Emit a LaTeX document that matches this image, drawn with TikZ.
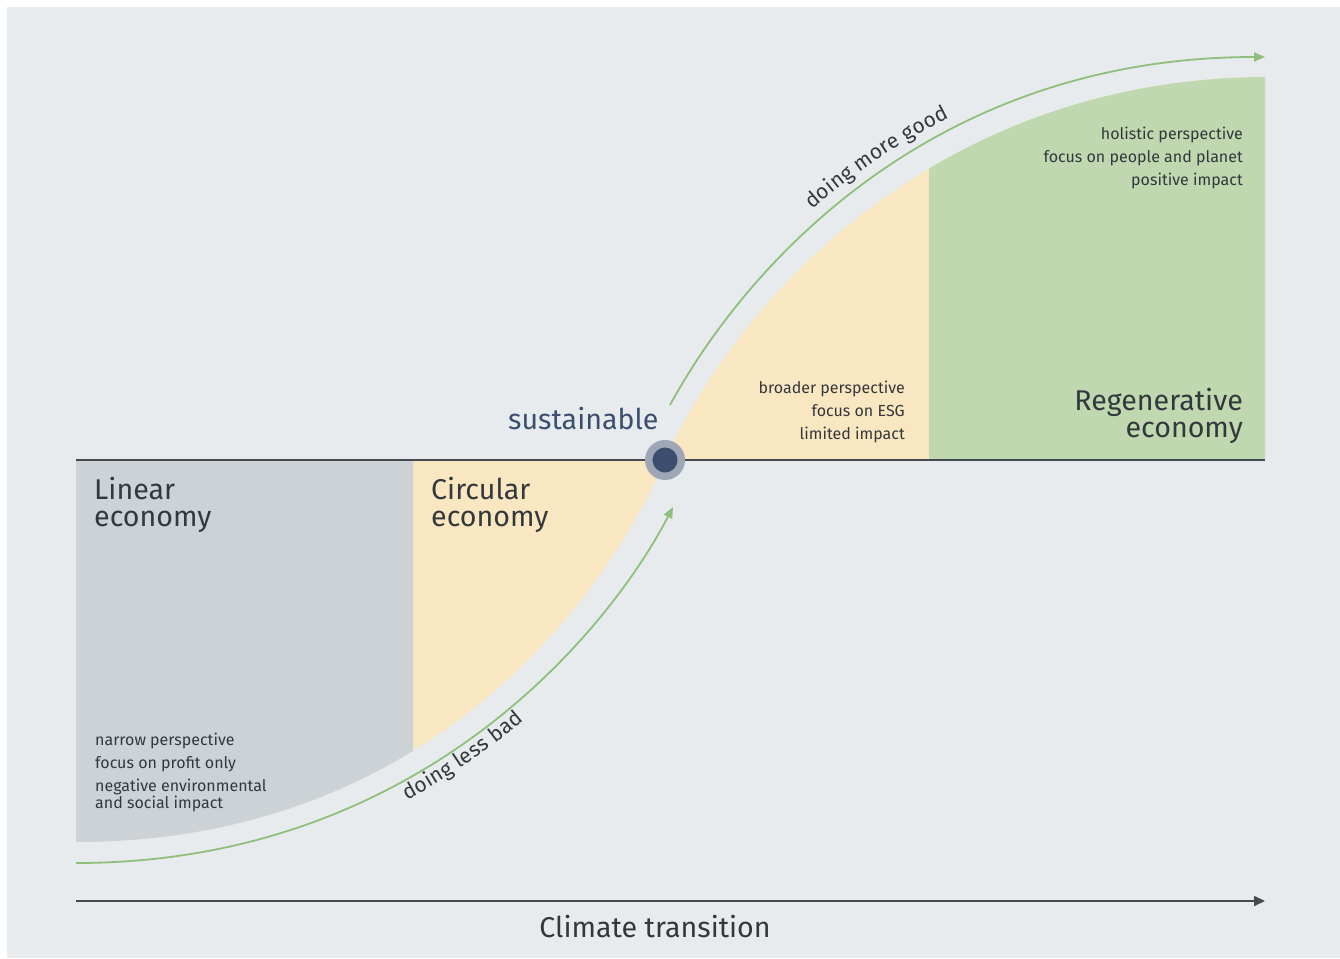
\documentclass[tikz,border=0pt]{standalone}
\usepackage{fontspec}
\setmainfont{Fira Sans}
\usetikzlibrary{arrows.meta,decorations.text}
\definecolor{bgc}{HTML}{E7EBEE}
\definecolor{grayc}{HTML}{CDD2D6}
\definecolor{yellowc}{HTML}{F9E7C1}
\definecolor{greenc}{HTML}{BFD8AF}
\definecolor{greenline}{HTML}{8EC07C}
\definecolor{textdark}{HTML}{33383C}
\definecolor{navy}{HTML}{3C4E6E}
\definecolor{ringc}{HTML}{9FA7B6}
\definecolor{axisc}{HTML}{454A4F}
\newcommand\arcfont{\fontsize{21}{21}\selectfont\color{textdark}}
\begin{document}
\begin{tikzpicture}[x=1pt,y=-1pt,
  big/.style={font=\fontsize{28.6}{27.5}\selectfont, inner sep=0pt, text=textdark},
  small/.style={font=\fontsize{16}{17.5}\selectfont, inner sep=0pt, text=textdark},
  greenarrow/.style={draw=greenline, line width=1.8pt, -{Triangle[length=11pt,width=9pt]}},
  axisline/.style={draw=axisc, line width=1.2pt},
  xaxis/.style={draw=axisc, line width=1.5pt, -{Triangle[length=11pt,width=10pt]}}]
\useasboundingbox (0,0) rectangle (1340,958);
\fill[bgc] (7,7) rectangle (1340,958);
% key points
\coordinate (lowstart) at (76,842);
\coordinate (mid) at (665,460);
\coordinate (upend) at (1265,77);
\coordinate (axl) at (76,460);
\coordinate (axr) at (1265,460);
% lower region
\fill[yellowc] (axl) -- (lowstart) .. controls (420,842) and (600,610) .. (mid) -- cycle;
\begin{scope}
  \clip (0,0) rectangle (413,958);
  \fill[grayc] (axl) -- (lowstart) .. controls (420,842) and (600,610) .. (mid) -- cycle;
\end{scope}
% upper region
\fill[yellowc] (mid) .. controls (732,310) and (928,79) .. (upend) -- (axr) -- cycle;
\begin{scope}
  \clip (929,0) rectangle (1340,958);
  \fill[greenc] (mid) .. controls (732,310) and (928,79) .. (upend) -- (axr) -- cycle;
\end{scope}
\draw[axisline] (axl) -- (axr);
% green arrows
\coordinate (ua0) at (670,405);
\coordinate (ua1) at (1265,57);
\coordinate (la0) at (76,863);
\coordinate (la1) at (673,507);
\draw[greenarrow] (ua0) .. controls (752,255) and (941,57) .. (ua1);
\draw[greenarrow] (la0) .. controls (425,863) and (612,625) .. (la1);
\path[decorate, decoration={text along path, text={|\arcfont|doing more good}, text align={left indent=240pt}, raise=12pt}]
  (ua0) .. controls (752,255) and (941,57) .. (ua1);
\path[decorate, decoration={text along path, text={|\arcfont|doing less bad}, text align={left indent=335pt}, raise=-19pt}]
  (la0) .. controls (425,863) and (612,625) .. (la1);
% dot
\node[circle, fill=navy, draw=ringc, line width=7.5pt, minimum size=32.5pt, inner sep=0pt] (dot) at (mid) {};
% x axis
\coordinate (xa0) at (76,901);
\coordinate (xa1) at (1265,901);
\draw[xaxis] (xa0) -- (xa1);
% labels (multi-line nodes: base = last line)
\node[big, anchor=base west, align=left] (linear) at (94,526.5) {Linear\\economy};
\node[big, anchor=base west, align=left] (circular) at (431,526.5) {Circular\\economy};
\node[big, anchor=base east, align=right] (regen) at (1243,437.5) {Regenerative\\economy};
\node[big, anchor=base west, text=navy] (sust) at (508,429) {sustainable};
\node[big, anchor=base] (climate) at (655,937) {Climate transition};
\node[small, anchor=base west] (l1) at (95,745) {narrow perspective};
\node[small, anchor=base west] (l2) at (95,768) {focus on profit only};
\node[small, anchor=base west, align=left] (l3) at (95,808.5) {negative environmental\\and social impact};
\node[small, anchor=base east] (c1) at (905,393) {broader perspective};
\node[small, anchor=base east] (c2) at (905,416) {focus on ESG};
\node[small, anchor=base east] (c3) at (905,439) {limited impact};
\node[small, anchor=base east] (r1) at (1243,139) {holistic perspective};
\node[small, anchor=base east] (r2) at (1243,162) {focus on people and planet};
\node[small, anchor=base east] (r3) at (1243,185) {positive impact};
\end{tikzpicture}
\end{document}
